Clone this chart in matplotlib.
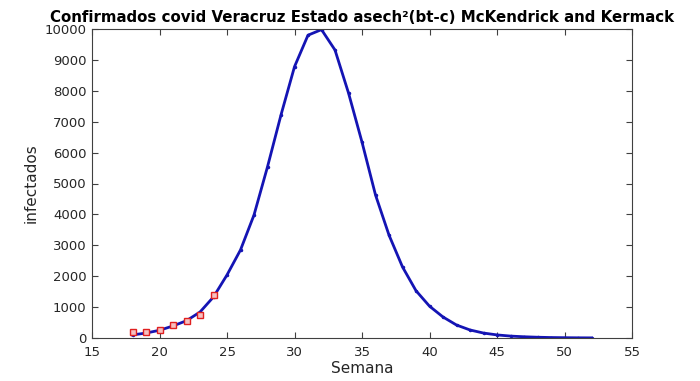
import numpy as np
import matplotlib
matplotlib.use("Agg")
import matplotlib.pyplot as plt

# ── data ──────────────────────────────────────────────────────────
semanas = list(range(18, 53))
modelo = [100, 160, 250, 390, 560, 840, 1330, 2040, 2850, 3980, 5540, 7220,
          8780, 9800, 9980, 9320, 7930, 6340, 4630, 3330, 2300, 1530, 1030,
          680, 420, 260, 160, 100, 62, 40, 25, 15, 10, 6, 4]

semanas_obs = [18, 19, 20, 21, 22, 23, 24]
confirmados = [183, 183, 270, 410, 550, 735, 1390]

xticks = [15, 20, 25, 30, 35, 40, 45, 50, 55]
yticks = list(range(0, 10001, 1000))

# ── plot ──────────────────────────────────────────────────────────
fig = plt.figure(figsize=(7, 3.81), dpi=100)
ax = fig.add_axes([92 / 700, 1 - 338 / 381, 540 / 700, 309 / 381])

ax.plot(semanas, modelo, color="#1414b4", linewidth=2, marker=".",
        markersize=3)
ax.plot(semanas_obs, confirmados, linestyle="none", marker="s",
        markersize=5, markerfacecolor="#f6c0c0", markeredgecolor="#e02020",
        markeredgewidth=1)

ax.set_xlim(15, 55)
ax.set_ylim(0, 10000)
ax.set_xticks(xticks)
ax.set_yticks(yticks)
ax.tick_params(direction="in", top=True, right=True, length=4,
               labelsize=9.5, colors="#404040", labelcolor="#262626")
ax.tick_params(axis="x", pad=6)
ax.tick_params(axis="y", pad=4)
for s in ax.spines.values():
    s.set_color("#404040")
    s.set_linewidth(0.8)

ax.set_xlabel("Semana", fontsize=11, color="#262626", labelpad=1)
ax.set_ylabel("infectados", fontsize=11, color="#262626", labelpad=4)
ax.set_title("Confirmados covid Veracruz Estado asech²(bt-c) McKendrick and Kermack",
             fontsize=10.8, fontweight="bold", pad=5)

plt.savefig("out.png", dpi=100)
plt.close()
